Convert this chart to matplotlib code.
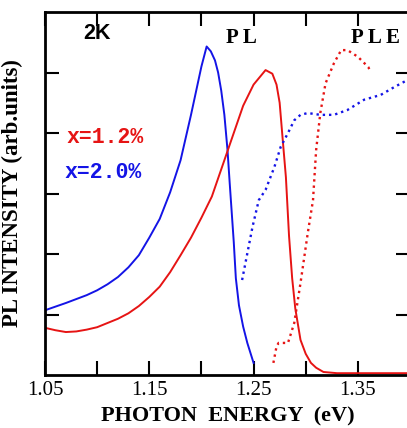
import matplotlib
matplotlib.use('Agg')
from matplotlib import pyplot as plt

# PL, x=2.0% (blue, solid)
pl_b_x = [1.050, 1.070, 1.090, 1.100, 1.110, 1.120, 1.130, 1.140, 1.150, 1.160, 1.170,
          1.180, 1.190, 1.200, 1.205, 1.209, 1.213, 1.216, 1.219, 1.222, 1.225, 1.227,
          1.229, 1.231, 1.233, 1.236, 1.240, 1.244, 1.250]
pl_b_y = [1.07, 1.19, 1.32, 1.40, 1.50, 1.62, 1.78, 1.98, 2.27, 2.58, 3.02,
          3.55, 4.30, 5.10, 5.43, 5.35, 5.20, 5.00, 4.70, 4.30, 3.72, 3.20,
          2.70, 2.20, 1.60, 1.15, 0.80, 0.53, 0.20]

# PL, x=1.2% (red, solid)
pl_r_x = [1.050, 1.060, 1.070, 1.080, 1.090, 1.100, 1.110, 1.120, 1.130, 1.140, 1.150,
          1.160, 1.170, 1.180, 1.190, 1.200, 1.210, 1.220, 1.230, 1.240, 1.250, 1.2615,
          1.268, 1.272, 1.275, 1.278, 1.281, 1.284, 1.287, 1.290, 1.295, 1.300, 1.305,
          1.310, 1.317, 1.330, 1.400]
pl_r_y = [0.78, 0.74, 0.71, 0.72, 0.75, 0.79, 0.86, 0.93, 1.02, 1.14, 1.29,
          1.46, 1.70, 1.98, 2.27, 2.60, 2.95, 3.45, 3.95, 4.45, 4.80, 5.04,
          4.98, 4.80, 4.50, 3.88, 3.27, 2.30, 1.60, 1.10, 0.58, 0.35, 0.20,
          0.12, 0.05, 0.03, 0.03]

# PLE, x=1.2% (red, dotted)
ple_r_x = [1.269, 1.272, 1.274, 1.283, 1.289, 1.295, 1.302, 1.307, 1.310, 1.314, 1.319,
           1.327, 1.334, 1.340, 1.350, 1.360, 1.3625]
ple_r_y = [0.20, 0.47, 0.53, 0.53, 0.86, 1.52, 2.35, 2.89, 3.72, 4.33, 4.82,
           5.15, 5.37, 5.37, 5.26, 5.09, 5.00]

# PLE, x=2.0% (blue, dotted)
ple_b_x = [1.239, 1.244, 1.249, 1.255, 1.2615, 1.270, 1.276, 1.283, 1.289, 1.295, 1.302,
           1.314, 1.327, 1.340, 1.356, 1.372, 1.385, 1.398]
ple_b_y = [1.57, 2.01, 2.45, 2.89, 3.06, 3.44, 3.77, 4.00, 4.21, 4.30, 4.33,
           4.30, 4.30, 4.38, 4.55, 4.63, 4.76, 4.88]

red = '#e61414'
blue = '#1414e6'
serif = 'Liberation Serif'

fig = plt.figure(figsize=(4.07, 4.28), dpi=100)
ax = fig.add_axes([45/407, 53/428, 365/407, 363/428])

ax.plot(pl_b_x, pl_b_y, color=blue, lw=1.4)
ax.plot(pl_r_x, pl_r_y, color=red, lw=1.4)
ax.plot(ple_r_x, ple_r_y, color=red, lw=1.7, ls=':')
ax.plot(ple_b_x, ple_b_y, color=blue, lw=1.7, ls=':')

ax.set_xlim(1.05, 1.40)
ax.set_ylim(0, 6)
ax.set_xticks([1.05, 1.15, 1.25, 1.35])
ax.set_xticklabels(['1.05', '1.15', '1.25', '1.35'], fontfamily=serif, fontsize=15)
ax.set_xticks([1.10, 1.20, 1.30], minor=True)
ax.set_yticks([1, 2, 3, 4, 5])
ax.set_yticklabels([])
ax.tick_params(which='both', direction='in', length=10, width=1.5,
               top=True, right=True, pad=4)
for s in ax.spines.values():
    s.set_linewidth(2)

ax.set_xlabel('PHOTON  ENERGY  (eV)', fontfamily=serif, fontweight='bold', fontsize=16, labelpad=5)
ax.set_ylabel('PL INTENSITY (arb.units)', fontfamily=serif, fontweight='bold', fontsize=16.5, labelpad=12)

ax.text(1.0995, 5.64, '2K', fontfamily='Liberation Sans', fontweight='bold', fontsize=15.5,
        ha='center', va='center')
ax.text(1.238, 5.57, 'P L', fontfamily=serif, fontweight='bold', fontsize=15,
        ha='center', va='center')
ax.text(1.367, 5.57, 'P L E', fontfamily=serif, fontweight='bold', fontsize=15,
        ha='center', va='center')
ax.text(1.108, 3.93, 'x=1.2%', fontfamily='Liberation Mono', fontweight='bold', fontsize=15.5,
        color=red, ha='center', va='center')
ax.text(1.106, 3.35, 'x=2.0%', fontfamily='Liberation Mono', fontweight='bold', fontsize=15.5,
        color=blue, ha='center', va='center')

fig.savefig('out.png', dpi=100)
